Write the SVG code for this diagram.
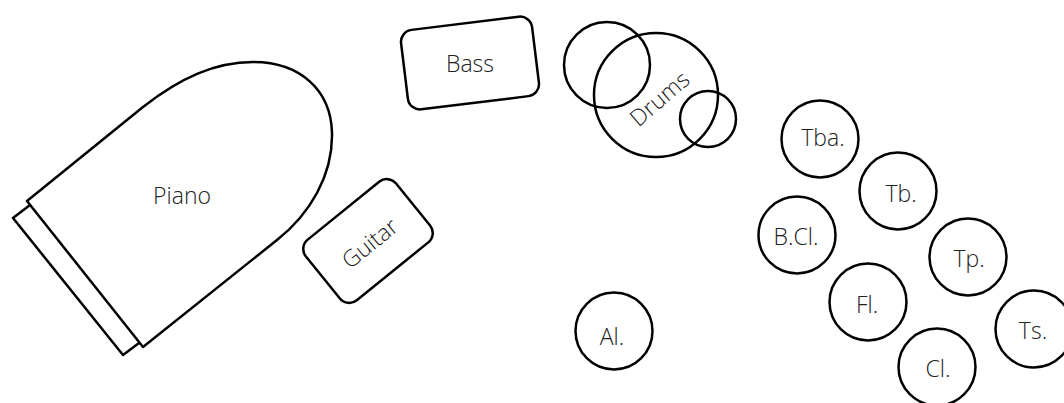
<svg xmlns="http://www.w3.org/2000/svg" width="1064" height="403" viewBox="0 0 1064 403">
  <style>
    .shape { fill: none; stroke: #000; stroke-width: 2.5; stroke-linejoin: round; }
    .label { font-family: "Open Sans", "Noto Sans", sans-serif; font-weight: 300; font-size: 23px; fill: #222; text-anchor: middle; dominant-baseline: central; }
  </style>
  <rect width="1064" height="403" fill="#fff"/>

  <!-- Piano: body and keyboard -->
  <g id="piano">
    <path class="shape" d="M 27 201 L 143 347 L 277 240 C 310 214 333 175 332 133 C 331 90 300 62 253 62 C 215 62 180 78 143 107 Z"/>
    <path class="shape" d="M 30 205 L 13 218 L 123 355 L 139 343"/>
    <text class="label" x="182" y="195">Piano</text>
  </g>

  <!-- Guitar -->
  <g id="guitar" transform="translate(368 241) rotate(-39)">
    <rect class="shape" x="-58" y="-39" width="116" height="78" rx="12"/>
    <text class="label" x="0" y="2">Guitar</text>
  </g>

  <!-- Bass -->
  <g id="bass" transform="translate(470 63) rotate(-7)">
    <rect class="shape" x="-66" y="-40" width="132" height="80" rx="12"/>
    <text class="label" x="0" y="0" transform="rotate(7)">Bass</text>
  </g>

  <!-- Drum kit -->
  <g id="drums">
    <circle class="shape" cx="607" cy="65" r="43"/>
    <circle class="shape" cx="656" cy="95" r="62"/>
    <circle class="shape" cx="708" cy="119" r="28"/>
    <text class="label" x="0" y="0" transform="translate(659 98) rotate(-41)">Drums</text>
  </g>

  <!-- Horn and woodwind section -->
  <g id="tba">
    <circle class="shape" cx="820" cy="139" r="38.5"/>
    <text class="label" x="823" y="137">Tba.</text>
  </g>
  <g id="tb">
    <circle class="shape" cx="898" cy="191" r="38.5"/>
    <text class="label" x="901" y="193">Tb.</text>
  </g>
  <g id="bcl">
    <circle class="shape" cx="797" cy="235" r="38.5"/>
    <text class="label" x="796" y="236">B.Cl.</text>
  </g>
  <g id="tp">
    <circle class="shape" cx="968" cy="257" r="38.5"/>
    <text class="label" x="969" y="258">Tp.</text>
  </g>
  <g id="fl">
    <circle class="shape" cx="868" cy="302" r="38.5"/>
    <text class="label" x="867" y="304">Fl.</text>
  </g>
  <g id="ts">
    <circle class="shape" cx="1034" cy="329" r="38.5"/>
    <text class="label" x="1033" y="330">Ts.</text>
  </g>
  <g id="cl">
    <circle class="shape" cx="937" cy="367" r="38.5"/>
    <text class="label" x="938" y="368">Cl.</text>
  </g>
  <g id="al">
    <circle class="shape" cx="614" cy="331" r="38.5"/>
    <text class="label" x="612" y="336">Al.</text>
  </g>

  <!-- No connectors in this stage plot -->
  <g id="connectors"/>
</svg>
